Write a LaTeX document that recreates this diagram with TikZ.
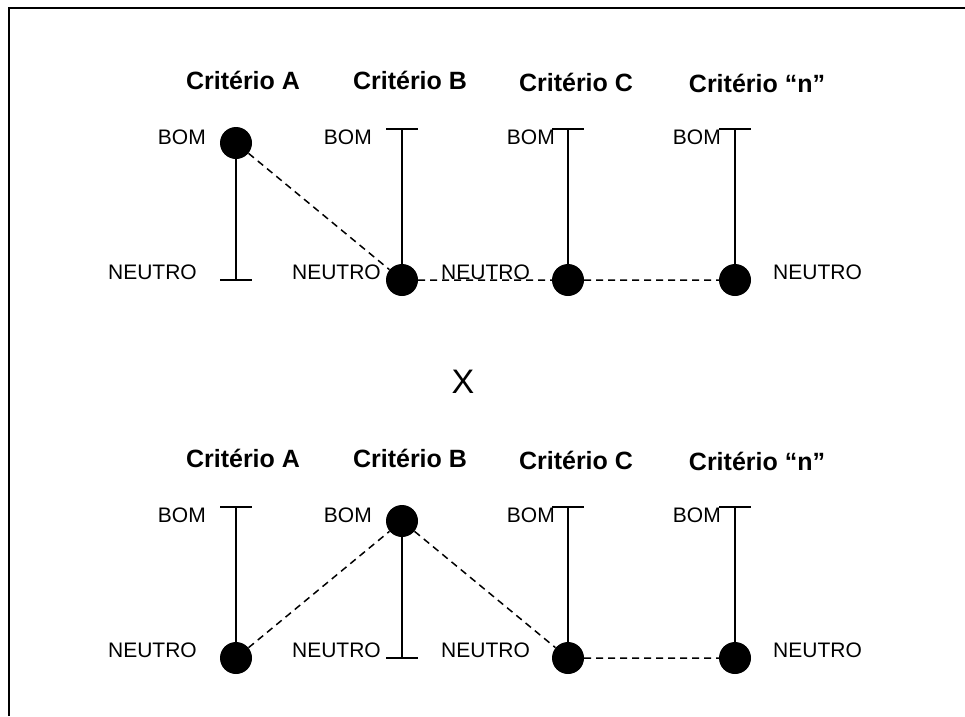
\documentclass[tikz,border=0pt]{standalone}
\usepackage{fontspec}
\setmainfont{Liberation Sans}
\begin{document}
\begin{tikzpicture}[x=1pt, y=-1pt,
    eixo/.style={line width=2pt},
    tracejado/.style={line width=1.5pt, dash pattern=on 7pt off 5pt},
    ponto/.style={circle, fill=black, inner sep=0pt, minimum size=32pt},
    rotulo/.style={inner sep=0pt, font=\fontsize{21}{21}\selectfont},
    titulo/.style={inner sep=0pt, font=\fontsize{25}{25}\selectfont\bfseries}]
    \useasboundingbox (0,0) rectangle (965,716);

    % Frame (open at right and bottom)
    \draw[line width=2pt] (9,716) -- (9,8) -- (965,8);

    % End points of the scales, upper (u) and lower (l) panel
    \foreach \nome/\x in {A/236, B/402, C/568, n/735} {
        \coordinate (u\nome-bom) at (\x,129);
        \coordinate (u\nome-neutro) at (\x,280);
        \coordinate (l\nome-bom) at (\x,507);
        \coordinate (l\nome-neutro) at (\x,658);
        \draw[eixo] (u\nome-bom) -- (u\nome-neutro);
        \draw[eixo] (l\nome-bom) -- (l\nome-neutro);
    }

    % Titles
    \node[titulo] (uA-tit) at (243,80.5) {Critério A};
    \node[titulo] (uB-tit) at (410,80.5) {Critério B};
    \node[titulo] (uC-tit) at (576,82) {Critério C};
    \node[titulo] (un-tit) at (757,83.5) {Critério “n”};
    \node[titulo] (lA-tit) at (243,458.5) {Critério A};
    \node[titulo] (lB-tit) at (410,458.5) {Critério B};
    \node[titulo] (lC-tit) at (576,460) {Critério C};
    \node[titulo] (ln-tit) at (757,461.5) {Critério “n”};

    % Ticks where no point sits
    \foreach \p in {uA-neutro, uB-bom, uC-bom, un-bom, lA-bom, lB-neutro, lC-bom, ln-bom}
        \draw[eixo] ([xshift=-16pt]\p) -- ([xshift=16pt]\p);

    % Selected points
    \node[ponto] (uA-sel) at ([yshift=-14pt]uA-bom) {};
    \node[ponto] (uB-sel) at (uB-neutro) {};
    \node[ponto] (uC-sel) at (uC-neutro) {};
    \node[ponto] (un-sel) at (un-neutro) {};
    \node[ponto] (lA-sel) at (lA-neutro) {};
    \node[ponto] (lB-sel) at ([yshift=-14pt]lB-bom) {};
    \node[ponto] (lC-sel) at (lC-neutro) {};
    \node[ponto] (ln-sel) at (ln-neutro) {};

    % Profiles
    \draw[tracejado] (uA-sel) -- (uB-sel) -- (uC-sel) -- (un-sel);
    \draw[tracejado] (lA-sel) -- (lB-sel) -- (lC-sel) -- (ln-sel);

    % Scale labels
    \foreach \q/\dy in {u/0, l/378} {
        \node[rotulo, anchor=east] (\q A-lbom) at (206,137+\dy) {BOM};
        \node[rotulo, anchor=east] (\q B-lbom) at (372,137+\dy) {BOM};
        \node[rotulo, anchor=east] (\q C-lbom) at (555,137+\dy) {BOM};
        \node[rotulo, anchor=east] (\q n-lbom) at (721,137+\dy) {BOM};
        \node[rotulo, anchor=east] (\q A-lneutro) at (197,272+\dy) {NEUTRO};
        \node[rotulo, anchor=east] (\q B-lneutro) at (381,272+\dy) {NEUTRO};
        \node[rotulo, anchor=west] (\q C-lneutro) at (441,272+\dy) {NEUTRO};
        \node[rotulo, anchor=west] (\q n-lneutro) at (773,272+\dy) {NEUTRO};
    }

    % Versus
    \node[inner sep=0pt, font=\fontsize{34}{34}\selectfont] (versus) at (463,382) {X};
\end{tikzpicture}
\end{document}
